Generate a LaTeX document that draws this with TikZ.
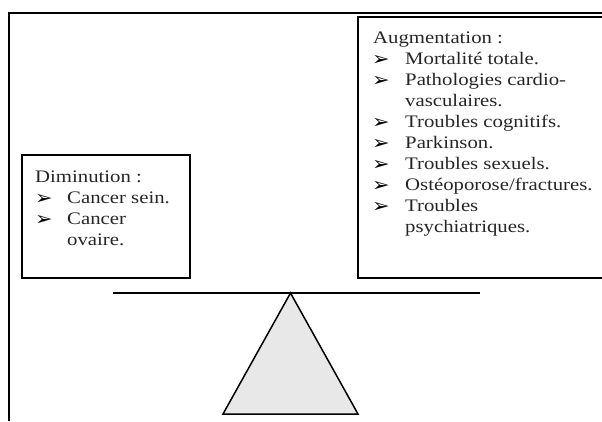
\documentclass[tikz,border=0pt]{standalone}
\usepackage{fontspec}
\setmainfont{Liberation Serif}[FakeStretch=1.18]
\newfontfamily\arrowfont{DejaVu Sans}[FakeStretch=1.1]

\tikzset{
  box/.style={draw, line width=2pt, inner sep=0pt, anchor=north west},
  entry/.style={anchor=base west, inner sep=0pt, text=black!85,
    font=\fontsize{17.6}{21}\selectfont},
  tick/.style={anchor=base west, inner sep=0pt, text=black,
    font=\arrowfont\fontsize{19}{21}\selectfont},
}
\newcommand{\listmark}{➢}

\begin{document}
\begin{tikzpicture}[x=1pt, y=-1pt]
    \useasboundingbox (0,0) rectangle (602,421);

    % Line spacing and indent of the list texts
    \pgfmathsetmacro{\lsp}{21}
    \pgfmathsetmacro{\ind}{32}

    % Outer frame (cut off at the right and at the bottom)
    \draw[line width=1.7pt] (9,421) -- (9,13) -- (602,13);

    % The two boxes
    \node[box, minimum width=168pt, minimum height=123pt] (dimbox) at (21,154) {};
    \node[box, minimum width=245pt, minimum height=261pt] (augbox) at (357,16) {};

    % Left list: bullet flag / indent flag / text
    \foreach \bul/\dx/\txt [count=\i] in {0/0/Diminution :, 1/1/Cancer sein.,
      1/1/Cancer, 0/1/ovaire.}{
      \pgfmathsetmacro{\ty}{182 + \lsp*(\i-1)}
      \pgfmathsetmacro{\tx}{35 + \ind*\dx}
      \node[entry] (dim\i) at (\tx,\ty) {\txt};
      \ifnum\bul=1 \node[tick] (dimtick\i) at (35,\ty+1) {\listmark}; \fi
    }

    % Right list, same layout
    \foreach \bul/\dx/\txt [count=\i] in {0/0/Augmentation :,
      1/1/Mortalité totale., 1/1/Pathologies cardio-, 0/1/vasculaires.,
      1/1/Troubles cognitifs., 1/1/Parkinson., 1/1/Troubles sexuels.,
      1/1/{Ostéoporose/fractures.}, 1/1/Troubles, 0/1/psychiatriques.}{
      \pgfmathsetmacro{\ty}{43 + \lsp*(\i-1)}
      \pgfmathsetmacro{\tx}{373 + \ind*\dx}
      \node[entry] (aug\i) at (\tx,\ty) {\txt};
      \ifnum\bul=1 \node[tick] (augtick\i) at (372,\ty+1) {\listmark}; \fi
    }

    % The balance: beam on top of the triangle
    \coordinate (beamL) at (113,293);
    \coordinate (beamR) at (480,293);
    \coordinate (apex) at (290.5,293);
    \coordinate (baseL) at (223,414);
    \coordinate (baseR) at (358,414);

    \draw[fill=black!9, line width=1.5pt] (apex) -- (baseL) -- (baseR) -- cycle;
    \draw[line width=2.6pt] (beamL) -- (beamR);

\end{tikzpicture}
\end{document}
